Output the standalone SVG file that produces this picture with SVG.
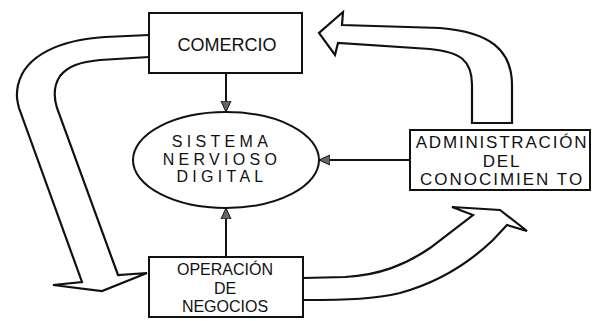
<svg xmlns="http://www.w3.org/2000/svg" width="600" height="321" viewBox="0 0 600 321">
<defs>
<style>
.box{fill:#fff;stroke:#111;stroke-width:2}
.big{fill:#fff;stroke:#111;stroke-width:2.2;stroke-linejoin:miter}
.t{font-family:"Liberation Sans",Arial,sans-serif;fill:#111;text-anchor:middle}
.line{stroke:#111;stroke-width:2;fill:none}
</style>
<marker id="ah2" viewBox="0 0 12 12" refX="11" refY="6" markerWidth="12" markerHeight="12" orient="auto" markerUnits="userSpaceOnUse">
<path d="M0,1 L11,6 L0,11 Z" fill="#666" stroke="#111" stroke-width="1"/>
</marker>
</defs>
<g id="connectors">
<path class="big" d="M 472 123 L 472 85 C 472 60 460 52 430 49 L 338 43 L 335 55 L 319 33 L 343 12 L 342 25 L 440 28 C 490 32 512 50 512 85 L 512 123 Z"/>
<path class="big" d="M 149 35 L 105 37 C 60 40 25 55 18 85 C 16 95 17 100 19 108 L 82 282 L 53 285 L 102 291 L 147 273 L 118 275 L 57 108 C 53 95 54 85 60 76 C 68 66 80 62 100 60 L 149 57"/>
<path class="big" d="M 303 278 L 345 277 C 380 275 405 265 430 248 L 473 215 L 452 207 L 500 210 L 527 231 L 507 225 L 493 240 C 470 262 440 282 400 293 C 375 299 350 300 303 300"/>
<line class="line" x1="226" y1="73" x2="226" y2="112" marker-end="url(#ah2)"/>
<line class="line" x1="226" y1="257" x2="226" y2="208" marker-end="url(#ah2)"/>
<line class="line" x1="410" y1="160" x2="319" y2="160" marker-end="url(#ah2)"/>
</g>
<g id="comercio">
<rect class="box" x="149" y="13" width="153" height="60"/>
<text class="t" x="227" y="51" font-size="18">COMERCIO</text>
</g>
<g id="sistema">
<ellipse cx="226" cy="160" rx="93" ry="48" fill="#fff" stroke="#111" stroke-width="2"/>
<text class="t" x="222" y="147" font-size="16" letter-spacing="4.3">SISTEMA</text>
<text class="t" x="222" y="165" font-size="16" letter-spacing="4.3">NERVIOSO</text>
<text class="t" x="222" y="182" font-size="16" letter-spacing="4.3">DIGITAL</text>
</g>
<g id="administracion">
<rect class="box" x="410" y="130" width="180" height="60"/>
<text class="t" x="502" y="148" font-size="17" letter-spacing="1.8">ADMINISTRACIÓN</text>
<text class="t" x="502" y="167" font-size="17" letter-spacing="1.8">DEL</text>
<text class="t" x="502" y="185" font-size="17" letter-spacing="2">CONOCIMIEN TO</text>
</g>
<g id="operacion">
<rect class="box" x="149" y="257" width="154" height="60"/>
<text class="t" x="225" y="275" font-size="16">OPERACIÓN</text>
<text class="t" x="225" y="293.5" font-size="16">DE</text>
<text class="t" x="225" y="312" font-size="16">NEGOCIOS</text>
</g>
</svg>
